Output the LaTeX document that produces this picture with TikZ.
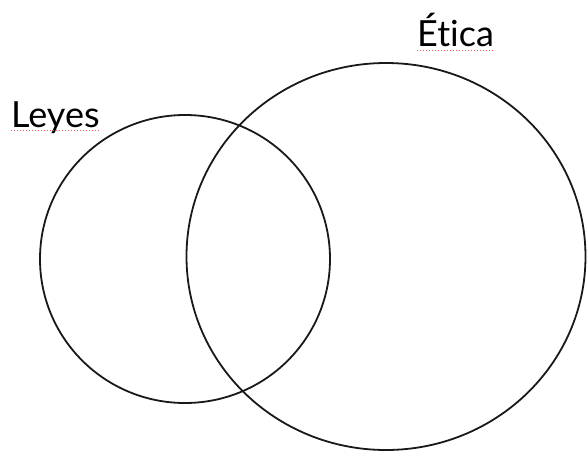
\documentclass[tikz,border=0pt]{standalone}
\usepackage{fontspec}
\setmainfont{Lato}[Ligatures=NoCommon]
\usetikzlibrary{calc}

\begin{document}
\begin{tikzpicture}[x=1pt,y=-1pt]
\useasboundingbox (0,0) rectangle (587,453);
\draw[black!90,line width=1.8pt] (185,259) ellipse (145 and 144);
\draw[black!90,line width=1.8pt] (386,256.5) ellipse (199.5 and 193.5);
\node[font=\fontsize{36}{40}\selectfont,anchor=base west,inner sep=0pt] (leyes) at (11,127) {Leyes};
\node[font=\fontsize{36}{40}\selectfont,anchor=base west,inner sep=0pt] (etica) at (417,46) {Ética};
\draw[red!65,dotted,line width=1pt] ($(leyes.base west)+(0,3)$) -- ($(leyes.base east)+(0,3)$);
\draw[red!65,dotted,line width=1pt] ($(etica.base west)+(0,4)$) -- ($(etica.base east)+(0,4)$);
\end{tikzpicture}
\end{document}
